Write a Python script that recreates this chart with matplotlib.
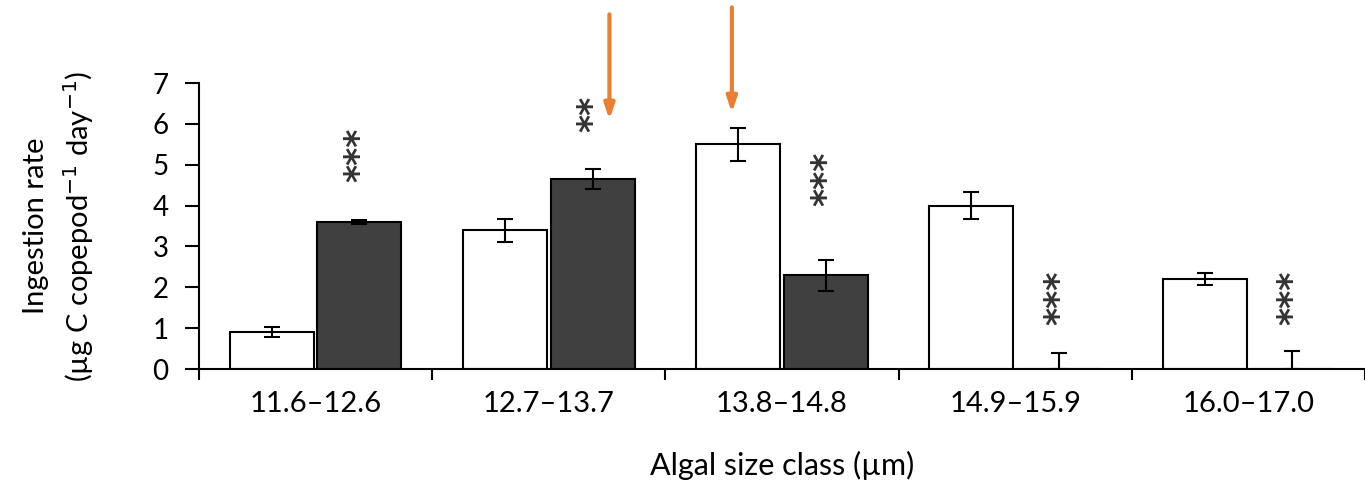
import matplotlib.pyplot as plt
import numpy as np

plt.rcParams['font.family'] = ['Lato', 'DejaVu Sans']

# 數據
size_classes = ["11.6–12.6", "12.7–13.7", "13.8–14.8", "14.9–15.9", "16.0–17.0"]
white_vals = [0.9, 3.4, 5.5, 4.0, 2.2]
white_err = [0.12, 0.28, 0.4, 0.33, 0.15]
dark_vals = [3.6, 4.65, 2.3, 0.0, 0.0]
dark_err_low = [0.04, 0.25, 0.38, 0.0, 0.0]
dark_err_high = [0.04, 0.25, 0.38, 0.4, 0.45]
stars = ["***", "**", "***", "***", "***"]
star_y = [5.25, 6.25, 4.65, 1.75, 1.75]
arrow_x = [1.26, 1.785]
arrow_tip = [6.1, 6.27]
arrow_start = [8.68, 8.85]

x = np.arange(len(size_classes))
w = 0.36
off = 0.188

fig = plt.figure(figsize=(13.65, 4.92), dpi=100)
ax = fig.add_axes([0.1458, 0.25, 0.8542, 0.5813])

ax.bar(x - off, white_vals, w, color="white", edgecolor="black", linewidth=1.5)
ax.bar(x + off, dark_vals, w, color="#404040", edgecolor="black", linewidth=1.5)
ax.errorbar(x - off, white_vals, yerr=white_err, fmt="none", ecolor="black",
            elinewidth=1.5, capsize=6, capthick=1.5)
ax.errorbar(x + off, dark_vals, yerr=[dark_err_low, dark_err_high], fmt="none",
            ecolor="black", elinewidth=1.5, capsize=6, capthick=1.5)

for xi, s, yi in zip(x, stars, star_y):
    ax.text(xi + off, yi, s, rotation=90, ha="center", va="center",
            fontsize=25, fontweight="bold", family="DejaVu Sans", color="#333333")

for ax_x, tip, start in zip(arrow_x, arrow_tip, arrow_start):
    ax.annotate("", xy=(ax_x, tip), xytext=(ax_x, start), annotation_clip=False,
                arrowprops=dict(arrowstyle="-|>,head_width=0.3,head_length=0.9",
                                color="#ED7D31", lw=3, shrinkA=0, shrinkB=0))

ax.set_xlim(-0.5, 4.5)
ax.set_ylim(0, 7)
ax.set_yticks(range(8))
ax.set_xticks(x)
ax.set_xticklabels(size_classes)
ax.set_xticks(np.arange(-0.5, 5.0, 1.0), minor=True)
ax.tick_params(axis="x", which="major", length=0, pad=16, labelsize=21)
ax.tick_params(axis="x", which="minor", length=8, width=1.5, direction="out")
ax.tick_params(axis="y", length=10, width=1.5, labelsize=20, pad=12)
for sp in ["top", "right"]:
    ax.spines[sp].set_visible(False)
for sp in ["left", "bottom"]:
    ax.spines[sp].set_linewidth(1.5)

ax.set_xlabel("Algal size class (µm)", fontsize=22, labelpad=24)
ax.set_ylabel("Ingestion rate\n(µg C copepod$^{-1}$ day$^{-1}$)", fontsize=21,
              linespacing=1.45)
ax.yaxis.set_label_coords(-0.088, 0.5)

fig.savefig("out.png", dpi=100)
plt.close(fig)
